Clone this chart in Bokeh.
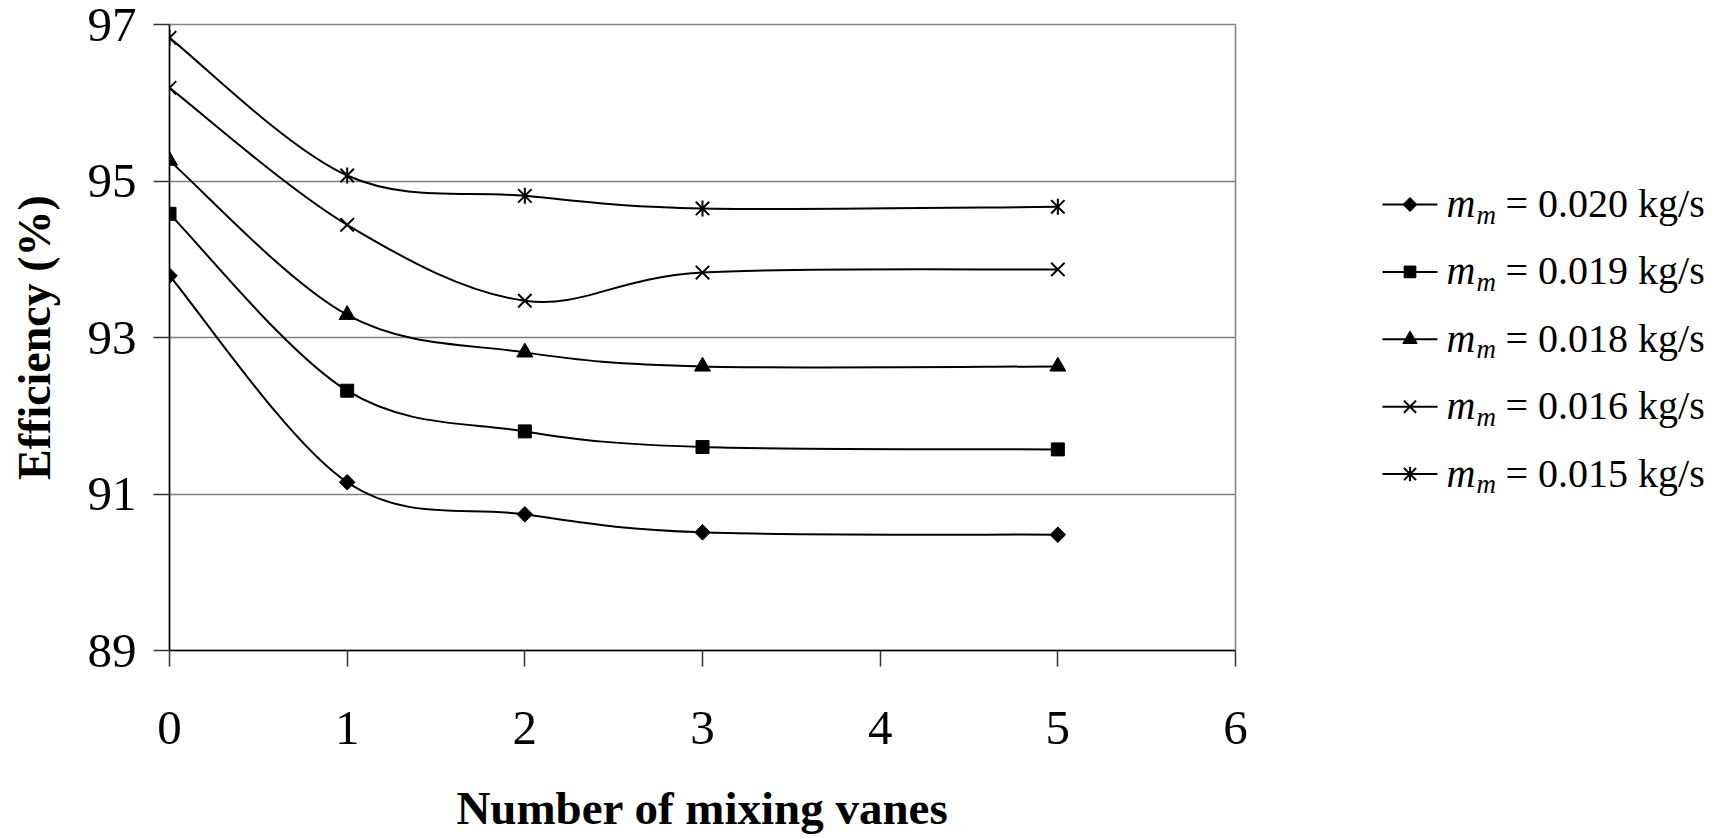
import numpy as np
from bokeh.plotting import figure
from bokeh.layouts import row
from bokeh.models import Range1d, FixedTicker
from bokeh.core.properties import value
from bokeh.embed import file_html
from bokeh.resources import INLINE

# ---- data ----
vanes = [0, 1, 2, 3, 5]
eff_020 = [93.79, 91.15, 90.74, 90.51, 90.48]
eff_019 = [94.58, 92.32, 91.80, 91.60, 91.57]
eff_018 = [95.26, 93.29, 92.81, 92.63, 92.63]
eff_016 = [96.19, 94.44, 93.47, 93.83, 93.87]
eff_015 = [96.83, 95.07, 94.81, 94.65, 94.67]
flow_labels = ["0.020", "0.019", "0.018", "0.016", "0.015"]
x_ticks = [0, 1, 2, 3, 4, 5, 6]
y_ticks = [89, 91, 93, 95, 97]

FONT = "Liberation Serif"
series = [eff_020, eff_019, eff_018, eff_016, eff_015]
markers = ["diamond", "square", "triangle", "x", "asterisk"]

# ---- layout (pixels) ----
LEFT, TOP, FRAME_W, FRAME_H, RIGHT, BOTTOM = 169, 24, 1066, 626, 20, 188
MAIN_W = LEFT + FRAME_W + RIGHT
FIG_H = TOP + FRAME_H + BOTTOM
LEG_W = 1720 - MAIN_W


def smooth(xs, ys):
    px = np.asarray(xs, float)
    py = np.asarray(ys, float)
    n = len(px)
    out = dict(x0=[], y0=[], x1=[], y1=[], cx0=[], cy0=[], cx1=[], cy1=[])
    for i in range(n - 1):
        a = max(i - 1, 0)
        b = min(i + 2, n - 1)
        out["x0"].append(px[i]); out["y0"].append(py[i])
        out["x1"].append(px[i + 1]); out["y1"].append(py[i + 1])
        out["cx0"].append(px[i] + (px[i + 1] - px[a]) / 6)
        out["cy0"].append(py[i] + (py[i + 1] - py[a]) / 6)
        out["cx1"].append(px[i + 1] - (px[b] - px[i]) / 6)
        out["cy1"].append(py[i + 1] - (py[b] - py[i]) / 6)
    return out


def draw_marker(fig, x, y, kind, scale=1.0):
    if kind == "diamond":
        fig.scatter(x, y, marker="square", angle=np.pi / 4, size=11 * scale,
                    fill_color="black", line_color="black", line_width=1)
    elif kind == "square":
        fig.scatter(x, y, marker="square", size=13 * scale,
                    fill_color="black", line_color="black", line_width=1)
    elif kind == "triangle":
        fig.scatter(x, y, marker="triangle", size=16 * scale,
                    fill_color="black", line_color="black", line_width=1)
    elif kind == "x":
        fig.scatter(x, y, marker="x", size=19 * scale, line_color="black", line_width=2)
    else:
        fig.scatter(x, y, marker="x", size=19 * scale, line_color="black", line_width=2)
        fig.scatter(x, y, marker="dash", angle=np.pi / 2, size=16 * scale,
                    line_color="black", line_width=2)


# ---- main plot ----
p = figure(width=MAIN_W, height=FIG_H, x_range=Range1d(0, 6), y_range=Range1d(89, 97),
           toolbar_location=None, output_backend="svg",
           min_border_left=LEFT, min_border_right=RIGHT, min_border_top=TOP,
           min_border_bottom=BOTTOM)
p.background_fill_color = "white"
p.border_fill_color = "white"
p.outline_line_color = "#808080"
p.outline_line_width = 1.5

p.xaxis.ticker = FixedTicker(ticks=x_ticks)
p.yaxis.ticker = FixedTicker(ticks=y_ticks)
p.xgrid.visible = False
p.ygrid.ticker = FixedTicker(ticks=y_ticks)
p.ygrid.grid_line_color = "#808080"
p.ygrid.grid_line_width = 1.5

for ax in (p.xaxis, p.yaxis):
    ax.axis_line_color = "black"
    ax.axis_line_width = 1.5
    ax.major_tick_out = 16
    ax.major_tick_in = 0
    ax.major_tick_line_color = "#333333"
    ax.major_tick_line_width = 1.5
    ax.minor_tick_line_color = None
    ax.major_label_text_font = FONT
    ax.major_label_text_font_size = "49px"
    ax.major_label_text_color = "black"
    ax.axis_label_text_font = FONT
    ax.axis_label_text_font_style = "bold"
    ax.axis_label_text_color = "black"

p.xaxis.axis_label = "Number of mixing vanes"
p.yaxis.axis_label = "Efficiency (%)"
p.xaxis.axis_label_text_font_size = "47px"
p.yaxis.axis_label_text_font_size = "46px"
p.xaxis.major_label_standoff = 45
p.xaxis.axis_label_standoff = 35
p.yaxis.major_label_standoff = 17
p.yaxis.axis_label_standoff = 25

for ys in series:
    seg = smooth(vanes, ys)
    p.bezier(x0=seg["x0"], y0=seg["y0"], x1=seg["x1"], y1=seg["y1"],
             cx0=seg["cx0"], cy0=seg["cy0"], cx1=seg["cx1"], cy1=seg["cy1"],
             line_color="black", line_width=2)
for ys, mk in zip(series, markers):
    draw_marker(p, vanes, ys, mk)

# ---- legend panel (coordinates in page pixels) ----
lg = figure(width=LEG_W, height=FIG_H,
            x_range=Range1d(MAIN_W, MAIN_W + LEG_W),
            y_range=Range1d(TOP + FRAME_H, TOP),
            toolbar_location=None, output_backend="svg",
            min_border_left=0, min_border_right=0,
            min_border_top=TOP, min_border_bottom=BOTTOM,
            x_axis_type=None, y_axis_type=None)
lg.outline_line_color = None
lg.background_fill_color = "white"
lg.border_fill_color = "white"

row_y = [204 + i * 67.4 for i in range(len(flow_labels))]
lg.segment(x0=[1382] * 5, y0=row_y, x1=[1437] * 5, y1=row_y,
           line_color="black", line_width=2)
for ry, mk in zip(row_y, markers):
    draw_marker(lg, [1409.5], [ry], mk, scale=0.9)

lg.text(x=[1446] * 5, y=[ry - 1 for ry in row_y], text=["m"] * 5,
        text_font=value(FONT), text_font_style="italic", text_font_size="40px",
        text_baseline="alphabetic", text_align="left", text_color="black")
lg.text(x=[1476] * 5, y=[ry + 10 for ry in row_y], text=["m"] * 5,
        text_font=value(FONT), text_font_style="italic", text_font_size="27px",
        text_baseline="alphabetic", text_align="left", text_color="black")
lg.text(x=[1505] * 5, y=[ry - 1 for ry in row_y],
        text=["= " + f + " kg/s" for f in flow_labels],
        text_font=value(FONT), text_font_size="40px",
        text_baseline="alphabetic", text_align="left", text_color="black")

layout = row(p, lg)
open("out.html", "w").write(file_html(layout, INLINE))
